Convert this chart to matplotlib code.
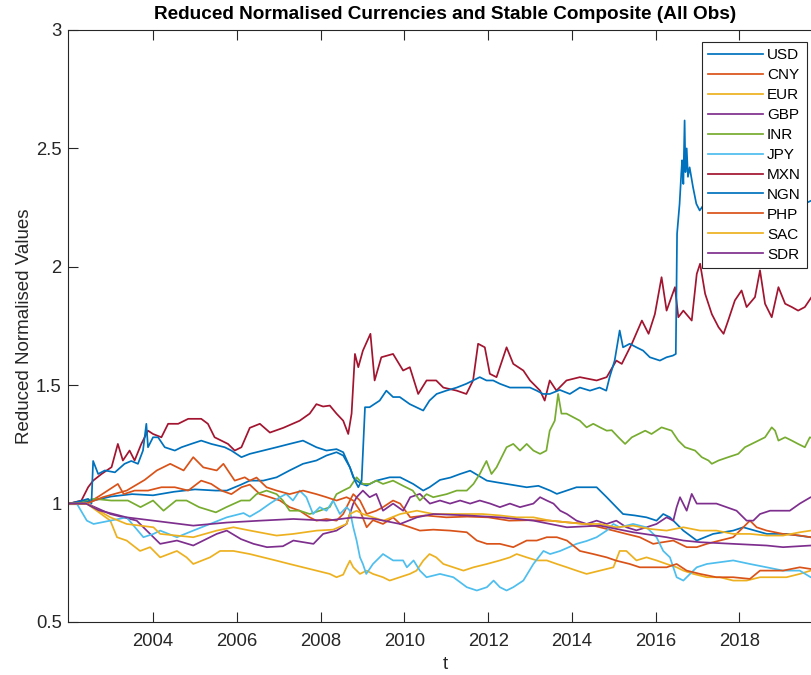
import matplotlib
matplotlib.use("Agg")
import matplotlib.pyplot as plt

# (year, reduced normalised value)
usd = [(2002.0, 1.0), (2002.5, 1.01), (2003.0, 1.03), (2003.5, 1.04), (2004.0, 1.035), (2004.5, 1.05),
       (2005.0, 1.06), (2005.5, 1.055), (2005.76, 1.055), (2006.1, 1.08), (2006.31, 1.097), (2006.63, 1.097),
       (2006.95, 1.111), (2007.26, 1.14), (2007.58, 1.168), (2007.9, 1.182), (2008.14, 1.203), (2008.38, 1.217),
       (2008.54, 1.203), (2008.7, 1.153), (2008.78, 1.111), (2008.86, 1.097), (2008.98, 1.083), (2009.1, 1.076),
       (2009.33, 1.097), (2009.65, 1.111), (2009.9, 1.111), (2010.21, 1.083), (2010.45, 1.055), (2010.6, 1.069),
       (2010.85, 1.1), (2011.1, 1.11), (2011.33, 1.125), (2011.57, 1.139), (2011.97, 1.097), (2012.2, 1.09),
       (2012.44, 1.083), (2012.92, 1.069), (2013.2, 1.075), (2013.48, 1.055), (2013.64, 1.041), (2014.11, 1.069),
       (2014.59, 1.069), (2014.83, 1.027), (2015.06, 0.985), (2015.22, 0.956), (2015.5, 0.95), (2015.78, 0.942),
       (2016.02, 0.928), (2016.18, 0.956), (2016.34, 0.942), (2016.66, 0.886), (2016.98, 0.844), (2017.37, 0.872),
       (2017.85, 0.886), (2018.09, 0.90), (2018.65, 0.872), (2019.12, 0.872), (2019.7, 0.858), (2019.97, 0.855)]

cny = [(2002.0, 1.0), (2002.42, 1.0), (2002.7, 1.03), (2003.16, 1.083), (2003.3, 1.04), (2003.56, 1.055),
       (2003.88, 1.055), (2004.2, 1.069), (2004.52, 1.069), (2004.84, 1.055), (2005.15, 1.097), (2005.39, 1.083),
       (2005.63, 1.055), (2005.87, 1.04), (2006.11, 1.069), (2006.31, 1.08), (2006.55, 1.04), (2006.79, 1.027),
       (2007.03, 1.013), (2007.26, 0.985), (2007.5, 0.97), (2007.74, 0.942), (2007.9, 0.928), (2008.14, 0.935),
       (2008.38, 0.928), (2008.54, 0.956), (2008.7, 1.013), (2008.78, 1.04), (2008.94, 1.013), (2009.1, 0.956),
       (2009.33, 0.97), (2009.49, 0.985), (2009.73, 1.013), (2009.9, 1.0), (2010.14, 0.942), (2010.5, 0.95),
       (2011.0, 0.942), (2011.5, 0.945), (2012.0, 0.942), (2012.5, 0.928), (2013.0, 0.93), (2013.48, 0.928),
       (2013.88, 0.921), (2014.35, 0.914), (2014.67, 0.90), (2014.99, 0.886), (2015.3, 0.872), (2015.62, 0.858),
       (2015.94, 0.83), (2016.1, 0.835), (2016.42, 0.844), (2016.74, 0.816), (2016.98, 0.816), (2017.22, 0.83),
       (2017.53, 0.844), (2017.85, 0.858), (2018.09, 0.90), (2018.25, 0.928), (2018.41, 0.90), (2018.65, 0.886),
       (2019.04, 0.872), (2019.44, 0.865), (2019.7, 0.858), (2019.97, 0.86)]

eur = [(2002.0, 1.0), (2002.42, 1.0), (2002.98, 0.928), (2003.14, 0.858), (2003.37, 0.844), (2003.69, 0.80),
       (2003.93, 0.816), (2004.17, 0.773), (2004.57, 0.80), (2004.8, 0.773), (2004.96, 0.745), (2005.36, 0.773),
       (2005.6, 0.80), (2005.92, 0.80), (2006.31, 0.787), (2006.63, 0.773), (2006.95, 0.759), (2007.26, 0.745),
       (2007.58, 0.731), (2007.9, 0.717), (2008.22, 0.703), (2008.38, 0.689), (2008.54, 0.70), (2008.62, 0.731),
       (2008.7, 0.759), (2008.78, 0.731), (2008.94, 0.703), (2009.1, 0.717), (2009.25, 0.703), (2009.49, 0.689),
       (2009.65, 0.675), (2009.89, 0.689), (2010.13, 0.703), (2010.29, 0.717), (2010.45, 0.759), (2010.6, 0.787),
       (2010.76, 0.773), (2010.93, 0.745), (2011.17, 0.731), (2011.41, 0.717), (2011.65, 0.731), (2011.97, 0.745),
       (2012.28, 0.76), (2012.52, 0.773), (2012.68, 0.787), (2012.92, 0.773), (2013.16, 0.76), (2013.4, 0.76),
       (2013.64, 0.745), (2013.88, 0.731), (2014.11, 0.717), (2014.35, 0.703), (2014.67, 0.717), (2014.99, 0.731),
       (2015.14, 0.80), (2015.3, 0.80), (2015.54, 0.76), (2015.78, 0.773), (2016.02, 0.76), (2016.26, 0.745),
       (2016.5, 0.731), (2016.66, 0.717), (2016.9, 0.703), (2017.22, 0.689), (2017.53, 0.689), (2017.85, 0.675),
       (2018.17, 0.675), (2018.49, 0.689), (2018.81, 0.689), (2019.12, 0.689), (2019.44, 0.703), (2019.7, 0.717),
       (2019.97, 0.715)]

gbp = [(2002.0, 1.0), (2002.42, 1.0), (2002.98, 0.956), (2003.61, 0.928), (2004.01, 0.858), (2004.17, 0.83),
       (2004.57, 0.844), (2004.96, 0.823), (2005.52, 0.872), (2005.76, 0.886), (2006.1, 0.85), (2006.4, 0.83),
       (2006.72, 0.816), (2007.1, 0.82), (2007.35, 0.844), (2007.83, 0.83), (2008.06, 0.872), (2008.38, 0.886),
       (2008.62, 0.914), (2008.78, 1.0), (2008.86, 1.027), (2009.01, 1.055), (2009.17, 1.027), (2009.33, 1.041),
       (2009.49, 0.97), (2009.73, 1.0), (2009.97, 0.97), (2010.14, 1.027), (2010.37, 1.041), (2010.61, 1.0),
       (2010.85, 1.013), (2011.09, 1.0), (2011.33, 1.013), (2011.57, 1.0), (2011.8, 1.013), (2012.05, 1.0),
       (2012.28, 0.985), (2012.52, 1.0), (2012.76, 0.985), (2013.08, 1.0), (2013.24, 1.027), (2013.4, 1.013),
       (2013.56, 1.0), (2013.72, 0.97), (2013.88, 0.956), (2014.11, 0.928), (2014.35, 0.914), (2014.59, 0.928),
       (2014.83, 0.914), (2015.06, 0.928), (2015.3, 0.90), (2015.54, 0.887), (2015.78, 0.90), (2016.02, 0.914),
       (2016.26, 0.942), (2016.42, 0.928), (2016.5, 0.985), (2016.58, 1.027), (2016.74, 0.97), (2016.86, 1.041),
       (2016.98, 1.0), (2017.22, 1.0), (2017.45, 1.0), (2017.69, 0.985), (2017.93, 0.97), (2018.17, 0.928),
       (2018.33, 0.928), (2018.49, 0.956), (2018.73, 0.97), (2018.97, 0.97), (2019.2, 0.97), (2019.44, 1.0),
       (2019.7, 1.027), (2019.97, 1.02)]

inr = [(2002.0, 1.0), (2002.3, 1.01), (2002.6, 1.02), (2003.0, 1.013), (2003.4, 1.013), (2003.7, 0.985),
       (2004.0, 1.013), (2004.25, 0.97), (2004.55, 1.013), (2004.8, 1.013), (2005.1, 0.985), (2005.5, 0.963),
       (2005.75, 0.985), (2006.1, 1.013), (2006.31, 1.013), (2006.47, 1.04), (2006.71, 1.055), (2006.95, 1.04),
       (2007.1, 1.013), (2007.26, 0.97), (2007.5, 0.97), (2007.74, 0.956), (2007.98, 0.97), (2008.22, 0.985),
       (2008.38, 1.04), (2008.54, 1.055), (2008.7, 1.069), (2008.86, 1.111), (2009.01, 1.083), (2009.17, 1.083),
       (2009.33, 1.097), (2009.49, 1.083), (2009.73, 1.097), (2009.97, 1.075), (2010.2, 1.055), (2010.37, 1.013),
       (2010.53, 1.04), (2010.69, 1.027), (2011.01, 1.04), (2011.25, 1.055), (2011.49, 1.055), (2011.65, 1.083),
       (2011.8, 1.125), (2011.88, 1.153), (2011.96, 1.18), (2012.08, 1.125), (2012.2, 1.153), (2012.44, 1.238),
       (2012.6, 1.252), (2012.76, 1.224), (2012.92, 1.252), (2013.08, 1.224), (2013.24, 1.21), (2013.39, 1.224),
       (2013.47, 1.308), (2013.59, 1.35), (2013.67, 1.463), (2013.75, 1.38), (2013.87, 1.38), (2014.03, 1.365),
       (2014.19, 1.35), (2014.35, 1.322), (2014.51, 1.337), (2014.67, 1.322), (2014.83, 1.308), (2014.95, 1.31),
       (2015.11, 1.28), (2015.27, 1.252), (2015.43, 1.28), (2015.59, 1.294), (2015.75, 1.308), (2015.9, 1.294),
       (2016.14, 1.322), (2016.38, 1.308), (2016.54, 1.266), (2016.7, 1.238), (2016.94, 1.224), (2017.1, 1.196),
       (2017.26, 1.182), (2017.34, 1.168), (2017.5, 1.182), (2017.73, 1.196), (2017.97, 1.21), (2018.13, 1.238),
       (2018.29, 1.252), (2018.45, 1.266), (2018.61, 1.28), (2018.77, 1.322), (2018.85, 1.308), (2018.93, 1.266),
       (2019.09, 1.28), (2019.25, 1.266), (2019.4, 1.252), (2019.56, 1.238), (2019.68, 1.28), (2019.97, 1.26)]

jpy = [(2002.0, 1.0), (2002.18, 1.0), (2002.42, 0.928), (2002.58, 0.914), (2002.98, 0.928), (2003.37, 0.942),
       (2003.77, 0.858), (2004.01, 0.872), (2004.17, 0.886), (2004.57, 0.858), (2004.96, 0.886), (2005.36, 0.914),
       (2005.76, 0.942), (2006.16, 0.96), (2006.31, 0.945), (2006.55, 0.97), (2006.79, 1.0), (2007.03, 1.027),
       (2007.18, 1.041), (2007.34, 1.013), (2007.5, 1.055), (2007.66, 1.027), (2007.82, 0.956), (2007.98, 0.985),
       (2008.14, 0.97), (2008.3, 1.013), (2008.46, 0.956), (2008.62, 0.985), (2008.7, 0.97), (2008.78, 0.9),
       (2008.86, 0.844), (2008.94, 0.773), (2009.01, 0.745), (2009.09, 0.703), (2009.25, 0.745), (2009.49, 0.787),
       (2009.73, 0.76), (2009.97, 0.76), (2010.06, 0.731), (2010.22, 0.76), (2010.37, 0.717), (2010.53, 0.689),
       (2010.85, 0.703), (2011.17, 0.689), (2011.49, 0.647), (2011.73, 0.633), (2011.97, 0.647), (2012.13, 0.675),
       (2012.28, 0.647), (2012.44, 0.633), (2012.6, 0.647), (2012.84, 0.675), (2013.08, 0.745), (2013.32, 0.80),
       (2013.48, 0.787), (2013.72, 0.80), (2014.11, 0.83), (2014.35, 0.842), (2014.59, 0.858), (2014.83, 0.886),
       (2014.99, 0.914), (2015.14, 0.90), (2015.46, 0.914), (2015.78, 0.90), (2016.02, 0.858), (2016.18, 0.80),
       (2016.34, 0.773), (2016.5, 0.689), (2016.66, 0.675), (2016.82, 0.703), (2016.98, 0.731), (2017.22, 0.745),
       (2017.85, 0.76), (2018.25, 0.745), (2018.65, 0.731), (2019.04, 0.717), (2019.44, 0.717), (2019.7, 0.689),
       (2019.97, 0.69)]

mxn = [(2002.0, 1.0), (2002.29, 1.013), (2002.45, 1.069), (2002.57, 1.097), (2002.77, 1.125), (2003.01, 1.154),
       (2003.16, 1.252), (2003.28, 1.182), (2003.44, 1.224), (2003.56, 1.182), (2003.72, 1.252), (2003.88, 1.308),
       (2004.0, 1.294), (2004.2, 1.28), (2004.36, 1.337), (2004.6, 1.337), (2004.84, 1.358), (2005.15, 1.358),
       (2005.31, 1.337), (2005.47, 1.28), (2005.79, 1.252), (2005.95, 1.224), (2006.11, 1.238), (2006.31, 1.32),
       (2006.55, 1.337), (2006.79, 1.30), (2007.11, 1.32), (2007.5, 1.35), (2007.74, 1.38), (2007.9, 1.42),
       (2008.06, 1.41), (2008.22, 1.414), (2008.38, 1.38), (2008.54, 1.35), (2008.66, 1.294), (2008.74, 1.38),
       (2008.82, 1.632), (2008.9, 1.576), (2009.01, 1.646), (2009.19, 1.717), (2009.29, 1.52), (2009.45, 1.618),
       (2009.73, 1.632), (2009.97, 1.562), (2010.13, 1.576), (2010.33, 1.463), (2010.53, 1.52), (2010.76, 1.52),
       (2010.93, 1.49), (2011.25, 1.477), (2011.48, 1.463), (2011.64, 1.52), (2011.76, 1.675), (2011.92, 1.66),
       (2012.04, 1.548), (2012.2, 1.534), (2012.44, 1.66), (2012.6, 1.59), (2012.84, 1.562), (2013.0, 1.52),
       (2013.24, 1.477), (2013.35, 1.435), (2013.47, 1.52), (2013.63, 1.477), (2013.87, 1.52), (2014.19, 1.534),
       (2014.59, 1.52), (2014.83, 1.534), (2015.06, 1.604), (2015.19, 1.59), (2015.43, 1.675), (2015.67, 1.773),
       (2015.83, 1.717), (2015.98, 1.80), (2016.14, 1.956), (2016.26, 1.815), (2016.46, 1.914), (2016.54, 1.787),
       (2016.66, 1.815), (2016.86, 1.773), (2016.98, 1.97), (2017.06, 2.013), (2017.18, 1.886), (2017.34, 1.80),
       (2017.5, 1.745), (2017.62, 1.717), (2017.73, 1.773), (2017.89, 1.858), (2018.05, 1.90), (2018.17, 1.83),
       (2018.37, 1.872), (2018.49, 1.985), (2018.61, 1.844), (2018.77, 1.787), (2018.93, 1.914), (2019.09, 1.844),
       (2019.25, 1.83), (2019.4, 1.815), (2019.56, 1.83), (2019.72, 1.872), (2019.97, 1.85)]

ngn = [(2002.0, 1.0), (2002.25, 1.01), (2002.45, 1.02), (2002.53, 1.0), (2002.57, 1.18), (2002.69, 1.125),
       (2002.85, 1.14), (2003.09, 1.132), (2003.32, 1.168), (2003.48, 1.18), (2003.64, 1.168), (2003.76, 1.224),
       (2003.84, 1.337), (2003.88, 1.238), (2004.0, 1.28), (2004.12, 1.28), (2004.28, 1.238), (2004.52, 1.224),
       (2004.68, 1.238), (2004.91, 1.252), (2005.15, 1.266), (2005.39, 1.252), (2005.71, 1.238), (2005.87, 1.224),
       (2006.11, 1.196), (2006.31, 1.21), (2006.63, 1.224), (2006.95, 1.238), (2007.26, 1.252), (2007.58, 1.266),
       (2007.9, 1.238), (2008.14, 1.224), (2008.38, 1.23), (2008.54, 1.217), (2008.7, 1.153), (2008.82, 1.097),
       (2008.9, 1.069), (2008.98, 1.097), (2009.06, 1.407), (2009.17, 1.407), (2009.41, 1.435), (2009.57, 1.477),
       (2009.73, 1.45), (2009.89, 1.45), (2010.13, 1.42), (2010.45, 1.393), (2010.6, 1.435), (2010.77, 1.463),
       (2011.0, 1.477), (2011.25, 1.49), (2011.48, 1.506), (2011.64, 1.52), (2011.8, 1.534), (2011.96, 1.52),
       (2012.12, 1.52), (2012.28, 1.506), (2012.52, 1.49), (2012.76, 1.49), (2013.0, 1.49), (2013.16, 1.477),
       (2013.31, 1.463), (2013.47, 1.463), (2013.71, 1.48), (2013.95, 1.463), (2014.19, 1.49), (2014.43, 1.477),
       (2014.66, 1.49), (2014.82, 1.477), (2014.9, 1.534), (2015.02, 1.604), (2015.14, 1.731), (2015.22, 1.66),
       (2015.38, 1.675), (2015.54, 1.66), (2015.7, 1.646), (2015.86, 1.618), (2016.1, 1.604), (2016.26, 1.618),
       (2016.41, 1.625), (2016.48, 1.632), (2016.51, 2.14), (2016.57, 2.266), (2016.61, 2.393), (2016.63, 2.45),
       (2016.66, 2.35), (2016.69, 2.618), (2016.71, 2.4), (2016.74, 2.5), (2016.77, 2.38), (2016.81, 2.42),
       (2016.89, 2.337), (2016.97, 2.266), (2017.05, 2.238), (2017.3, 2.3), (2017.8, 2.35), (2018.3, 2.3),
       (2018.8, 2.32), (2019.3, 2.3), (2019.6, 2.27), (2019.72, 2.28), (2019.97, 2.25)]

php = [(2002.0, 1.0), (2002.42, 1.0), (2002.8, 1.027), (2003.37, 1.055), (2003.8, 1.10), (2004.09, 1.14),
       (2004.41, 1.168), (2004.73, 1.14), (2004.96, 1.196), (2005.2, 1.153), (2005.52, 1.14), (2005.68, 1.168),
       (2005.95, 1.097), (2006.19, 1.111), (2006.31, 1.097), (2006.47, 1.11), (2006.71, 1.069), (2006.95, 1.055),
       (2007.26, 1.04), (2007.58, 1.055), (2007.9, 1.04), (2008.14, 1.027), (2008.38, 1.013), (2008.62, 1.027),
       (2008.78, 1.013), (2008.94, 0.97), (2009.1, 0.90), (2009.25, 0.93), (2009.49, 0.914), (2009.73, 0.942),
       (2009.9, 0.914), (2010.14, 0.90), (2010.37, 0.886), (2010.69, 0.89), (2011.09, 0.886), (2011.49, 0.879),
       (2011.73, 0.844), (2011.97, 0.83), (2012.28, 0.83), (2012.6, 0.816), (2012.92, 0.844), (2013.16, 0.844),
       (2013.4, 0.858), (2013.64, 0.858), (2013.88, 0.844), (2014.19, 0.80), (2014.51, 0.787), (2014.83, 0.773),
       (2015.06, 0.759), (2015.38, 0.745), (2015.62, 0.731), (2015.94, 0.731), (2016.26, 0.731), (2016.5, 0.745),
       (2016.74, 0.717), (2017.06, 0.703), (2017.45, 0.689), (2017.85, 0.689), (2018.25, 0.682), (2018.49, 0.717),
       (2018.81, 0.717), (2019.04, 0.717), (2019.44, 0.731), (2019.7, 0.724), (2019.97, 0.72)]

sac = [(2002.0, 1.0), (2002.42, 1.0), (2002.98, 0.942), (2003.37, 0.914), (2004.01, 0.90), (2004.17, 0.872),
       (2004.96, 0.858), (2005.52, 0.886), (2005.92, 0.90), (2006.32, 0.886), (2006.95, 0.865), (2007.35, 0.872),
       (2007.91, 0.886), (2008.3, 0.89), (2008.62, 0.914), (2008.7, 0.956), (2008.86, 0.97), (2009.01, 0.956),
       (2009.25, 0.942), (2009.5, 0.928), (2009.9, 0.956), (2010.3, 0.97), (2010.69, 0.956), (2011.86, 0.956),
       (2012.28, 0.95), (2012.68, 0.942), (2013.08, 0.942), (2013.48, 0.928), (2013.88, 0.921), (2014.27, 0.914),
       (2014.67, 0.914), (2015.06, 0.90), (2015.46, 0.907), (2015.86, 0.893), (2016.26, 0.886), (2016.66, 0.90),
       (2017.06, 0.886), (2017.45, 0.886), (2017.85, 0.872), (2018.25, 0.872), (2018.65, 0.865), (2019.04, 0.865),
       (2019.44, 0.879), (2019.7, 0.886), (2019.97, 0.885)]

sdr = [(2002.0, 1.0), (2002.4, 1.0), (2002.7, 0.972), (2003.37, 0.942), (2004.01, 0.928), (2004.96, 0.907),
       (2005.76, 0.92), (2006.56, 0.928), (2007.35, 0.935), (2008.15, 0.928), (2008.79, 0.942), (2009.3, 0.935),
       (2009.9, 0.914), (2010.3, 0.942), (2010.69, 0.956), (2011.5, 0.95), (2012.28, 0.942), (2012.68, 0.935),
       (2013.08, 0.928), (2013.48, 0.914), (2013.88, 0.90), (2014.67, 0.907), (2015.46, 0.879), (2016.26, 0.858),
       (2016.66, 0.844), (2017.06, 0.837), (2017.85, 0.83), (2018.65, 0.823), (2019.04, 0.816), (2019.7, 0.823),
       (2019.97, 0.82)]

names = ["USD", "CNY", "EUR", "GBP", "INR", "JPY", "MXN", "NGN", "PHP", "SAC", "SDR"]
series = [usd, cny, eur, gbp, inr, jpy, mxn, ngn, php, sac, sdr]
# MATLAB default colour order, cycling after seven
colors = ["#0072BD", "#D95319", "#EDB120", "#7E2F8E", "#77AC30", "#4DBEEE", "#A2142F",
          "#0072BD", "#D95319", "#EDB120", "#7E2F8E"]

plt.rcParams["font.family"] = ["Liberation Sans", "DejaVu Sans"]
axcol = "#262626"

fig = plt.figure(figsize=(8.12, 6.75), dpi=100)
# axes run past the right edge of the picture, as in the cropped reference
ax = fig.add_axes([68 / 812, 53 / 675, 754 / 812, 592 / 675])

for name, pts, c in zip(names, series, colors):
    t = [p[0] for p in pts]
    v = [p[1] for p in pts]
    ax.plot(t, v, color=c, lw=1.25, label=name)

ax.set_xlim(2001.97, 2019.97)
ax.set_ylim(0.5, 3)
ax.set_xticks(range(2004, 2019, 2))
ax.set_yticks([0.5, 1, 1.5, 2, 2.5, 3])
ax.set_yticklabels(["0.5", "1", "1.5", "2", "2.5", "3"])
ax.tick_params(direction="in", length=7, width=0.8, top=True, right=True,
               colors=axcol, labelsize=13.3)
ax.tick_params(axis="x", pad=8)
ax.tick_params(axis="y", pad=4.5)
for s in ax.spines.values():
    s.set_color(axcol)
    s.set_linewidth(0.8)

ax.set_title("Reduced Normalised Currencies and Stable Composite (All Obs)",
             fontsize=13.7, fontweight="bold", color="black", pad=8)
ax.set_xlabel("t", fontsize=13.5, color=axcol, labelpad=4)
ax.set_ylabel("Reduced Normalised Values", fontsize=13.5, color=axcol, labelpad=2)

leg = fig.legend(loc="upper right", bbox_to_anchor=(807 / 812, 1 - 42 / 675),
                 fontsize=11, frameon=True, fancybox=False, framealpha=1,
                 edgecolor=axcol, handlelength=3.6, handletextpad=0.25,
                 labelspacing=0.39, borderpad=0.4, borderaxespad=0)
leg.get_frame().set_linewidth(0.8)

fig.savefig("out.png", dpi=100)
plt.close("all")
